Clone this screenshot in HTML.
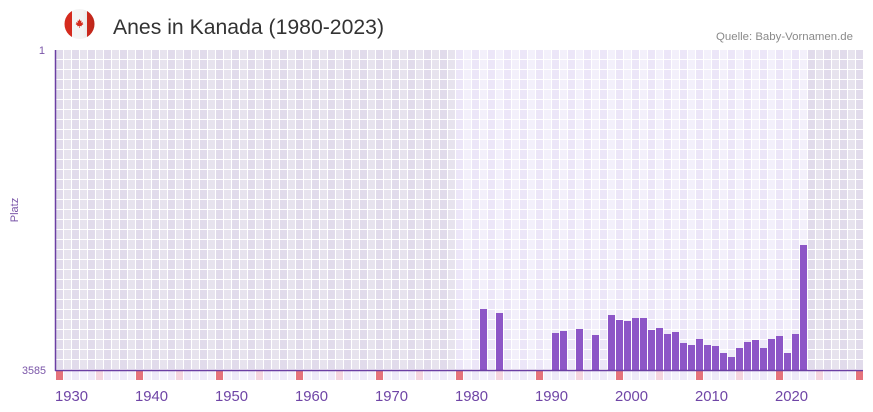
<!DOCTYPE html>
<html>
<head>
<meta charset="utf-8">
<style>
html,body{margin:0;padding:0;background:#fff;}
svg{display:block;}
text{font-family:"Liberation Sans",sans-serif;}
</style>
</head>
<body>
<svg width="873" height="412" viewBox="0 0 873 412" xmlns="http://www.w3.org/2000/svg">
<defs>
  <pattern id="pOut" patternUnits="userSpaceOnUse" x="56" y="50" width="16" height="10">
    <rect x="0" y="0" width="16" height="10" fill="#ffffff"/>
    <rect x="0" y="0" width="7" height="9" fill="#e1dbeb"/>
    <rect x="8" y="0" width="7" height="9" fill="#e7e3ee"/>
  </pattern>
  <pattern id="pIn" patternUnits="userSpaceOnUse" x="56" y="50" width="16" height="10">
    <rect x="0" y="0" width="16" height="10" fill="#ffffff"/>
    <rect x="0" y="0" width="7" height="9" fill="#ece6f8"/>
    <rect x="8" y="0" width="7" height="9" fill="#f3f0fb"/>
  </pattern>
  <pattern id="pStrip" patternUnits="userSpaceOnUse" x="56" y="371" width="16" height="10">
    <rect x="0" y="0" width="16" height="10" fill="#ffffff"/>
    <rect x="0" y="0" width="7" height="10" fill="#eee9f9"/>
    <rect x="8" y="0" width="7" height="10" fill="#f3f0fb"/>
  </pattern>
  <linearGradient id="flagShade" x1="0" y1="0" x2="1" y2="0">
    <stop offset="0" stop-color="#000" stop-opacity="0"/>
    <stop offset="0.6" stop-color="#000" stop-opacity="0"/>
    <stop offset="1" stop-color="#000" stop-opacity="0.12"/>
  </linearGradient>
  <clipPath id="flagClip"><circle cx="79.5" cy="24" r="15"/></clipPath>
</defs>

<!-- Header -->
<g clip-path="url(#flagClip)">
  <rect x="64" y="9" width="31" height="30" fill="#f4f4f4"/>
  <rect x="64" y="9" width="8" height="30" fill="#d52b1e"/>
  <rect x="87" y="9" width="8" height="30" fill="#d52b1e"/>
  <path transform="translate(79.5,23.5)" fill="#d52b1e" d="M0,-4.5 L1,-2.5 L2,-3 L1.7,-0.5 L3.5,-1.5 L3,0 L4,0.5 L2,2 L2.3,2.8 L0.3,2.5 L0.3,4.5 L-0.3,4.5 L-0.3,2.5 L-2.3,2.8 L-2,2 L-4,0.5 L-3,0 L-3.5,-1.5 L-1.7,-0.5 L-2,-3 L-1,-2.5 Z"/>
  <rect x="64" y="9" width="31" height="30" fill="url(#flagShade)"/>
</g>
<text x="113" y="34" font-size="21" fill="#333333" textLength="271" lengthAdjust="spacingAndGlyphs">Anes in Kanada (1980-2023)</text>
<text x="853" y="40" font-size="11" fill="#8a8a8a" text-anchor="end" textLength="137" lengthAdjust="spacingAndGlyphs">Quelle: Baby-Vornamen.de</text>

<!-- Plot background -->
<rect x="55" y="50" width="808" height="320" fill="url(#pOut)"/>
<rect x="455" y="50" width="352" height="320" fill="url(#pIn)"/>

<!-- Bottom strip -->
<rect x="55" y="371" width="808" height="9" fill="url(#pStrip)"/>
<g fill="#e5737c">
  <rect x="56" y="371" width="7" height="9"/>
  <rect x="136" y="371" width="7" height="9"/>
  <rect x="216" y="371" width="7" height="9"/>
  <rect x="296" y="371" width="7" height="9"/>
  <rect x="376" y="371" width="7" height="9"/>
  <rect x="456" y="371" width="7" height="9"/>
  <rect x="536" y="371" width="7" height="9"/>
  <rect x="616" y="371" width="7" height="9"/>
  <rect x="696" y="371" width="7" height="9"/>
  <rect x="776" y="371" width="7" height="9"/>
  <rect x="856" y="371" width="7" height="9"/>
</g>
<g fill="#f4d5df">
  <rect x="96" y="371" width="7" height="9"/>
  <rect x="176" y="371" width="7" height="9"/>
  <rect x="256" y="371" width="7" height="9"/>
  <rect x="336" y="371" width="7" height="9"/>
  <rect x="416" y="371" width="7" height="9"/>
  <rect x="496" y="371" width="7" height="9"/>
  <rect x="576" y="371" width="7" height="9"/>
  <rect x="656" y="371" width="7" height="9"/>
  <rect x="736" y="371" width="7" height="9"/>
  <rect x="816" y="371" width="7" height="9"/>
</g>

<!-- Bars -->
<g fill="#8d56c7">
  <rect x="480" y="309" width="7" height="61"/>
  <rect x="496" y="313" width="7" height="57"/>
  <rect x="552" y="333" width="7" height="37"/>
  <rect x="560" y="331" width="7" height="39"/>
  <rect x="576" y="329" width="7" height="41"/>
  <rect x="592" y="335" width="7" height="35"/>
  <rect x="608" y="315" width="7" height="55"/>
  <rect x="616" y="320" width="7" height="50"/>
  <rect x="624" y="321" width="7" height="49"/>
  <rect x="632" y="318" width="7" height="52"/>
  <rect x="640" y="318" width="7" height="52"/>
  <rect x="648" y="330" width="7" height="40"/>
  <rect x="656" y="328" width="7" height="42"/>
  <rect x="664" y="334" width="7" height="36"/>
  <rect x="672" y="332" width="7" height="38"/>
  <rect x="680" y="343" width="7" height="27"/>
  <rect x="688" y="345" width="7" height="25"/>
  <rect x="696" y="339" width="7" height="31"/>
  <rect x="704" y="345" width="7" height="25"/>
  <rect x="712" y="346" width="7" height="24"/>
  <rect x="720" y="353" width="7" height="17"/>
  <rect x="728" y="357" width="7" height="13"/>
  <rect x="736" y="348" width="7" height="22"/>
  <rect x="744" y="342" width="7" height="28"/>
  <rect x="752" y="340" width="7" height="30"/>
  <rect x="760" y="348" width="7" height="22"/>
  <rect x="768" y="339" width="7" height="31"/>
  <rect x="776" y="336" width="7" height="34"/>
  <rect x="784" y="353" width="7" height="17"/>
  <rect x="792" y="334" width="7" height="36"/>
  <rect x="800" y="245" width="7" height="125"/>
</g>

<!-- Axes -->
<line x1="55.5" y1="50" x2="55.5" y2="371" stroke="#6b3fa3" stroke-width="1.5"/>
<line x1="55" y1="370.5" x2="863" y2="370.5" stroke="#6b3fa3" stroke-width="1.6"/>

<!-- Y labels -->
<text x="45" y="54" font-size="11" fill="#7a55a8" text-anchor="end">1</text>
<text x="46" y="374" font-size="11" fill="#7a55a8" text-anchor="end" textLength="24" lengthAdjust="spacingAndGlyphs">3585</text>
<text transform="translate(18,210) rotate(-90)" font-size="11" fill="#7a55a8" text-anchor="middle">Platz</text>

<!-- X labels -->
<g font-size="15" fill="#6f45a6">
  <text x="55" y="401" textLength="33" lengthAdjust="spacingAndGlyphs">1930</text>
  <text x="135" y="401" textLength="33" lengthAdjust="spacingAndGlyphs">1940</text>
  <text x="215" y="401" textLength="33" lengthAdjust="spacingAndGlyphs">1950</text>
  <text x="295" y="401" textLength="33" lengthAdjust="spacingAndGlyphs">1960</text>
  <text x="375" y="401" textLength="33" lengthAdjust="spacingAndGlyphs">1970</text>
  <text x="455" y="401" textLength="33" lengthAdjust="spacingAndGlyphs">1980</text>
  <text x="535" y="401" textLength="33" lengthAdjust="spacingAndGlyphs">1990</text>
  <text x="615" y="401" textLength="33" lengthAdjust="spacingAndGlyphs">2000</text>
  <text x="695" y="401" textLength="33" lengthAdjust="spacingAndGlyphs">2010</text>
  <text x="775" y="401" textLength="33" lengthAdjust="spacingAndGlyphs">2020</text>
</g>
</svg>
</body>
</html>
